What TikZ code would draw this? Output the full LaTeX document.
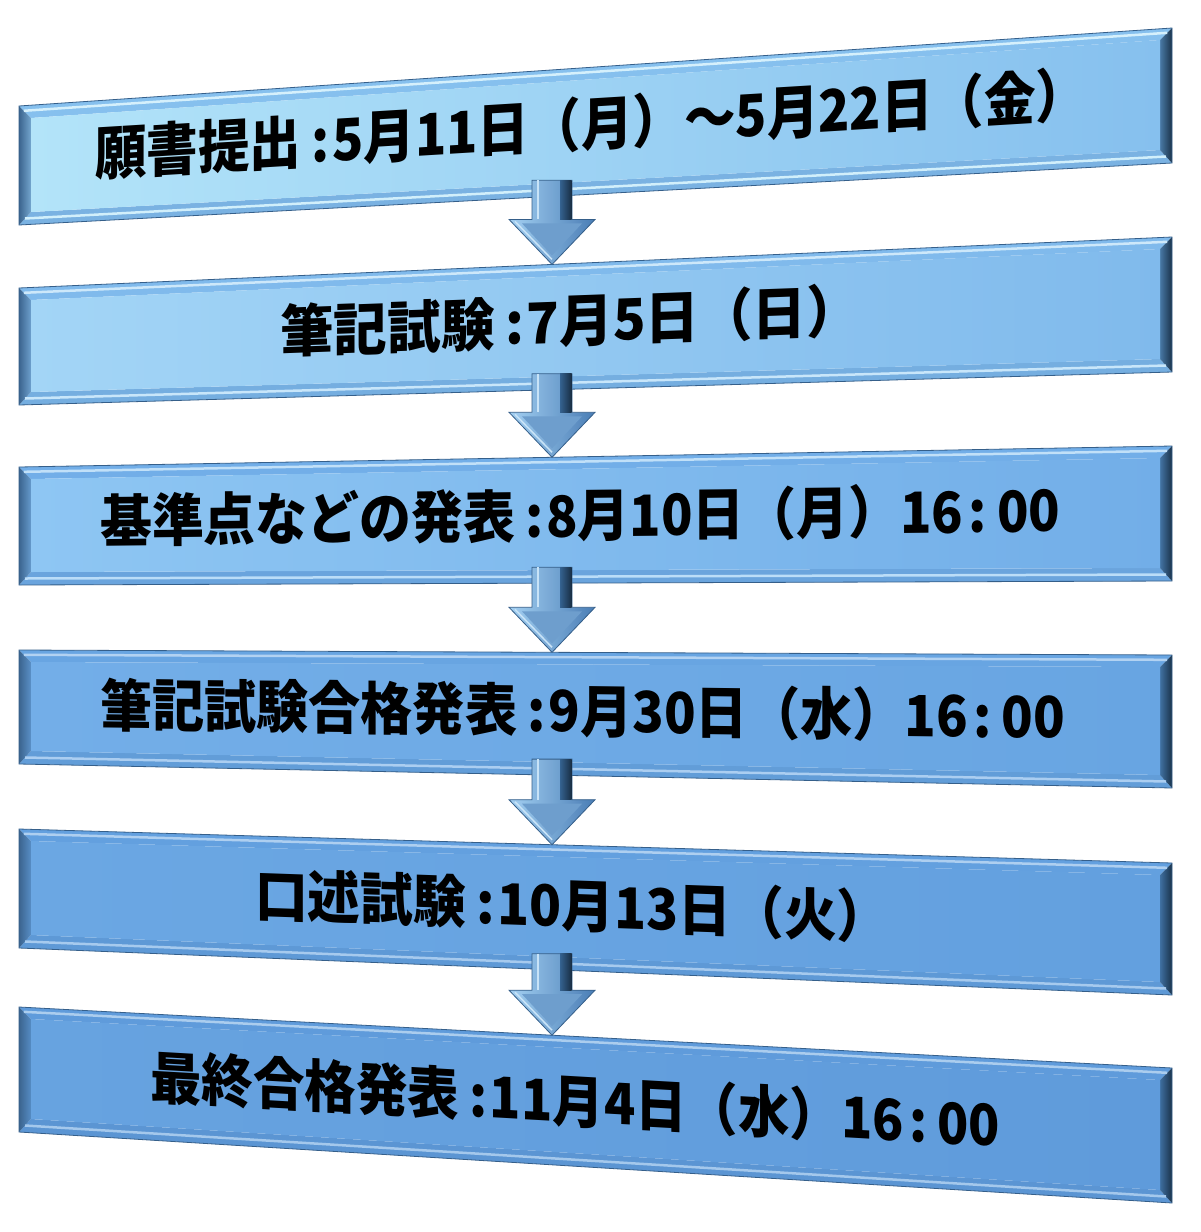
\documentclass[tikz,border=0pt]{standalone}
\usepackage{fontspec}
\newfontfamily\jpfont{Noto Sans CJK JP}
\usetikzlibrary{calc}

\definecolor{boxedge}{HTML}{355F8A}
\definecolor{lfacet}{HTML}{4A7DB2}
\definecolor{rfacet}{HTML}{2F5B86}
\definecolor{b1L}{HTML}{B3E4F9}
\definecolor{b1R}{HTML}{86C0EE}
\definecolor{b2L}{HTML}{A3D5F6}
\definecolor{b2R}{HTML}{80BAEC}
\definecolor{b3L}{HTML}{8EC6F3}
\definecolor{b3R}{HTML}{72AEE8}
\definecolor{b4L}{HTML}{73AEE8}
\definecolor{b4R}{HTML}{68A5E2}
\definecolor{b5L}{HTML}{6BA7E3}
\definecolor{b5R}{HTML}{63A0DF}
\definecolor{b6L}{HTML}{67A3E0}
\definecolor{b6R}{HTML}{5F9BDB}
\definecolor{arrL}{HTML}{A3D0F2}
\definecolor{arrR}{HTML}{4A7DB5}

\tikzset{
  datetext/.style={inner sep=0pt, anchor=base west, font=\jpfont\bfseries},
  arrowbody/.style={draw=boxedge, line width=0.8pt, left color=arrL, right color=arrR},
}

\begin{document}
\begin{tikzpicture}[x=1pt,y=-1pt]
    \useasboundingbox (0,0) rectangle (1200,1232);
    \fill[white] (0,0) rectangle (1200,1232);

    % Boxes (left edge x=19, right edge x=1172)
    \foreach \n/\lt/\lb/\rt/\rb/\cl/\cr in {
        1/106/225/28/163/b1L/b1R,
        2/288/405/237/372/b2L/b2R,
        3/467/585/446/581/b3L/b3R,
        4/650/764/655/788/b4L/b4R,
        5/829/948/863/995/b5L/b5R,
        6/1007/1132/1068/1203/b6L/b6R} {
        \coordinate (b\n-tl) at (19,\lt);
        \coordinate (b\n-bl) at (19,\lb);
        \coordinate (b\n-tr) at (1172,\rt);
        \coordinate (b\n-br) at (1172,\rb);
        % inner face corners
        \coordinate (b\n-itl) at ($(b\n-tl)+(12,12)$);
        \coordinate (b\n-itr) at ($(b\n-tr)+(-12,12)$);
        \coordinate (b\n-ibr) at ($(b\n-br)+(-12,-13)$);
        \coordinate (b\n-ibl) at ($(b\n-bl)+(12,-13)$);
        % arrow ends (x=552)
        \coordinate (b\n-top) at ($(b\n-tl)!0.4623!(b\n-tr)$);
        \coordinate (b\n-bot) at ($(b\n-bl)!0.4623!(b\n-br)$);

        % bevel facets
        \fill[\cr] (b\n-tl) -- (b\n-tr) -- (b\n-itr) -- (b\n-itl) -- cycle;
        \fill[\cr!80!lfacet] (b\n-bl) -- (b\n-ibl) -- (b\n-ibr) -- (b\n-br) -- cycle;
        \shade[left color=lfacet!80!black, right color=lfacet!60!\cl]
            (b\n-tl) -- (b\n-itl) -- (b\n-ibl) -- (b\n-bl) -- cycle;
        \shade[left color=rfacet!70!\cr, right color=rfacet!55!black]
            (b\n-tr) -- (b\n-br) -- (b\n-ibr) -- (b\n-itr) -- cycle;
        % highlights
        \draw[white!45!\cl, line width=2.5pt]
            ($(b\n-tl)!0.4!(b\n-itl)$) -- ($(b\n-tr)!0.4!(b\n-itr)$);
        \draw[white!40!\cl, line width=2.5pt]
            ($(b\n-bl)!0.5!(b\n-ibl)$) -- ($(b\n-br)!0.5!(b\n-ibr)$);
        % face
        \shade[left color=\cl, right color=\cr]
            (b\n-itl) -- (b\n-itr) -- (b\n-ibr) -- (b\n-ibl) -- cycle;
        \draw[boxedge, line width=0.8pt] (b\n-tl) -- (b\n-tr) -- (b\n-br) -- (b\n-bl) -- cycle;
    }

    % Labels
    \node[datetext, yslant=0.0607] (t1) at (95,176)
        {\resizebox{992pt}{50pt}{願書提出\hspace{0.2em}:\hspace{0.05em}5月11日（月）～5月22日（金）}};
    \node[datetext, yslant=0.0364] (t2) at (280,353)
        {\resizebox{580pt}{49pt}{筆記試験\hspace{0.2em}:\hspace{0.05em}7月5日（日）}};
    \node[datetext, yslant=0.0108] (t3) at (100,542)
        {\resizebox{960pt}{49pt}{基準点などの発表\hspace{0.2em}:\hspace{0.05em}8月10日（月）16\hspace{0.1em}:\hspace{0.2em}00}};
    \node[datetext, yslant=-0.0126] (t4) at (100,726)
        {\resizebox{965pt}{49pt}{筆記試験合格発表\hspace{0.2em}:\hspace{0.05em}9月30日（水）16\hspace{0.1em}:\hspace{0.2em}00}};
    \node[datetext, yslant=-0.0351] (t5) at (255,916)
        {\resizebox{634pt}{49pt}{口述試験\hspace{0.2em}:\hspace{0.05em}10月13日（火）}};
    \node[datetext, yslant=-0.0572] (t6) at (150,1098)
        {\resizebox{850pt}{49pt}{最終合格発表\hspace{0.2em}:\hspace{0.05em}11月4日（水）16\hspace{0.1em}:\hspace{0.2em}00}};

    % Arrows
    \foreach \i/\j in {1/2, 2/3, 3/4, 4/5, 5/6} {
        \coordinate (s) at ($(b\i-bot)+(0,-16)$);
        \draw[arrowbody] ($(s)+(-20,0)$) -- ($(b\j-top)+(-20,-45)$) -- ($(b\j-top)+(-43,-45)$)
            -- (b\j-top) -- ($(b\j-top)+(43,-45)$) -- ($(b\j-top)+(20,-45)$) -- ($(s)+(20,0)$) -- cycle;
        % dark side of the shaft
        \shade[left color=rfacet!80!arrR, right color=rfacet!50!black]
            ($(s)+(8,0)$) rectangle ($(b\j-top)+(19.6,-45)$);
        % inner head
        \fill[arrR!60!arrL] ($(b\j-top)+(-30,-41)$) -- ($(b\j-top)+(0,-9)$) -- ($(b\j-top)+(30,-41)$) -- cycle;
        \draw[white!40!arrL, line width=1.5pt] ($(b\j-top)+(-37,-43)$) -- ($(b\j-top)+(0,-5)$);
        \draw[white!40!arrL, line width=1.5pt] ($(s)+(-14,0)$) -- ($(b\j-top)+(-14,-45)$);
    }
\end{tikzpicture}
\end{document}
